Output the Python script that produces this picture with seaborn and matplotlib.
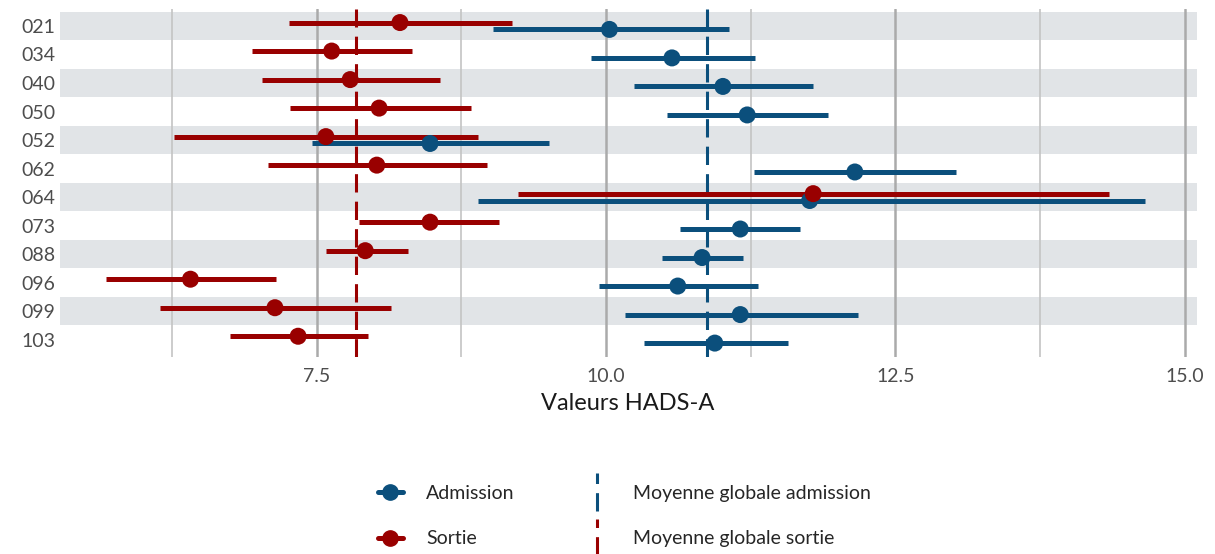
import matplotlib
matplotlib.use("Agg")
import matplotlib.pyplot as plt
from matplotlib.lines import Line2D
from matplotlib.legend_handler import HandlerBase
import seaborn as sns
import pandas as pd

# Data
patients = ["021", "034", "040", "050", "052", "062", "064", "073", "088", "096", "099", "103"]

adm_mean = [10.03, 10.57, 11.01, 11.22, 8.48, 12.15, 11.76, 11.16, 10.83, 10.62, 11.16, 10.94]
adm_low = [9.02, 9.87, 10.24, 10.53, 7.46, 11.28, 8.89, 10.64, 10.48, 9.94, 10.16, 10.33]
adm_high = [11.06, 11.29, 11.79, 11.92, 9.51, 13.02, 14.66, 11.68, 11.18, 11.31, 12.18, 11.57]

sor_mean = [8.22, 7.63, 7.79, 8.04, 7.58, 8.02, 11.79, 8.48, 7.92, 6.41, 7.14, 7.34]
sor_low = [7.26, 6.94, 7.03, 7.27, 6.27, 7.08, 9.24, 7.87, 7.58, 5.68, 6.15, 6.75]
sor_high = [9.19, 8.32, 8.57, 8.83, 8.89, 8.97, 14.35, 9.08, 8.29, 7.15, 8.14, 7.94]

mean_adm = 10.87
mean_sor = 7.84

c_adm = "#0b4f7c"
c_sor = "#990000"

sns.set_theme(style="white")
plt.rcParams["font.family"] = ["Lato", "DejaVu Sans"]

# long-form table, one row per patient and moment
rows = []
for i, p in enumerate(patients):
    rows.append({"patient": p, "pos": i + 0.12, "moment": "Admission",
                 "mean": adm_mean[i], "low": adm_low[i], "high": adm_high[i]})
for i, p in enumerate(patients):
    rows.append({"patient": p, "pos": i - 0.12, "moment": "Sortie",
                 "mean": sor_mean[i], "low": sor_low[i], "high": sor_high[i]})
df = pd.DataFrame(rows)

fig, ax = plt.subplots(figsize=(12.15, 5.54), dpi=100)
fig.subplots_adjust(left=0.049, right=0.985, top=0.984, bottom=0.356)

# alternating row stripes
for i in range(0, len(patients), 2):
    ax.axhspan(i - 0.5, i + 0.5, color="#e1e4e7", zorder=0, lw=0)

# grid
for v in [6.25, 8.75, 11.25, 13.75]:
    ax.axvline(v, color="#c4c4c4", lw=1.2, zorder=0.5)
for v in [7.5, 10.0, 12.5, 15.0]:
    ax.axvline(v, color="#aaaaaa", lw=1.8, zorder=0.5)

# global means
ax.axvline(mean_adm, color=c_adm, lw=2.2, dashes=(6, 3), zorder=1.5)
ax.axvline(mean_sor, color=c_sor, lw=2.2, dashes=(6, 3), zorder=1.5)

palette = {"Admission": c_adm, "Sortie": c_sor}
for moment in ["Admission", "Sortie"]:
    sub = df[df["moment"] == moment]
    ax.hlines(sub["pos"], sub["low"], sub["high"], color=palette[moment], lw=3.6, zorder=2)
    sns.scatterplot(data=sub, x="mean", y="pos", color=palette[moment], s=150,
                    edgecolor="none", zorder=3, ax=ax, legend=False)

ax.set_xlim(5.279, 15.104)
ax.set_ylim(11.6, -0.6)
ax.set_yticks(range(len(patients)))
ax.set_yticklabels(patients)
ax.set_xticks([7.5, 10.0, 12.5, 15.0])
ax.set_xticklabels(["7.5", "10.0", "12.5", "15.0"])
ax.tick_params(axis="both", length=0, labelsize=14, labelcolor="#4d4d4d", pad=3)
ax.tick_params(axis="x", pad=8)
ax.set_xlabel("Valeurs HADS-A", fontsize=17, color="#1a1a1a", labelpad=6)
ax.set_ylabel("")
sns.despine(ax=ax, left=True, bottom=True)


class VDashHandler(HandlerBase):
    def create_artists(self, legend, orig_handle, xdescent, ydescent,
                       width, height, fontsize, trans):
        x = width / 2 - xdescent
        line = Line2D([x, x], [-ydescent - 0.9 * height, height * 1.9],
                      color=orig_handle.get_color(), lw=2.2, dashes=(6, 3))
        line.set_transform(trans)
        return [line]


h_adm = Line2D([], [], color=c_adm, lw=3.6, marker="o", markersize=11)
h_sor = Line2D([], [], color=c_sor, lw=3.6, marker="o", markersize=11)
h_madm = Line2D([], [], color=c_adm)
h_msor = Line2D([], [], color=c_sor)

fig.legend([h_adm, h_sor, h_madm, h_msor],
           ["Admission", "Sortie", "Moyenne globale admission", "Moyenne globale sortie"],
           handler_map={h_madm: VDashHandler(), h_msor: VDashHandler()},
           ncol=2, loc="center", bbox_to_anchor=(0.514, 0.068), frameon=False,
           fontsize=14, labelspacing=1.45, handlelength=1.3, handletextpad=1.2,
           columnspacing=3.6)

fig.savefig("out.png", dpi=100)
